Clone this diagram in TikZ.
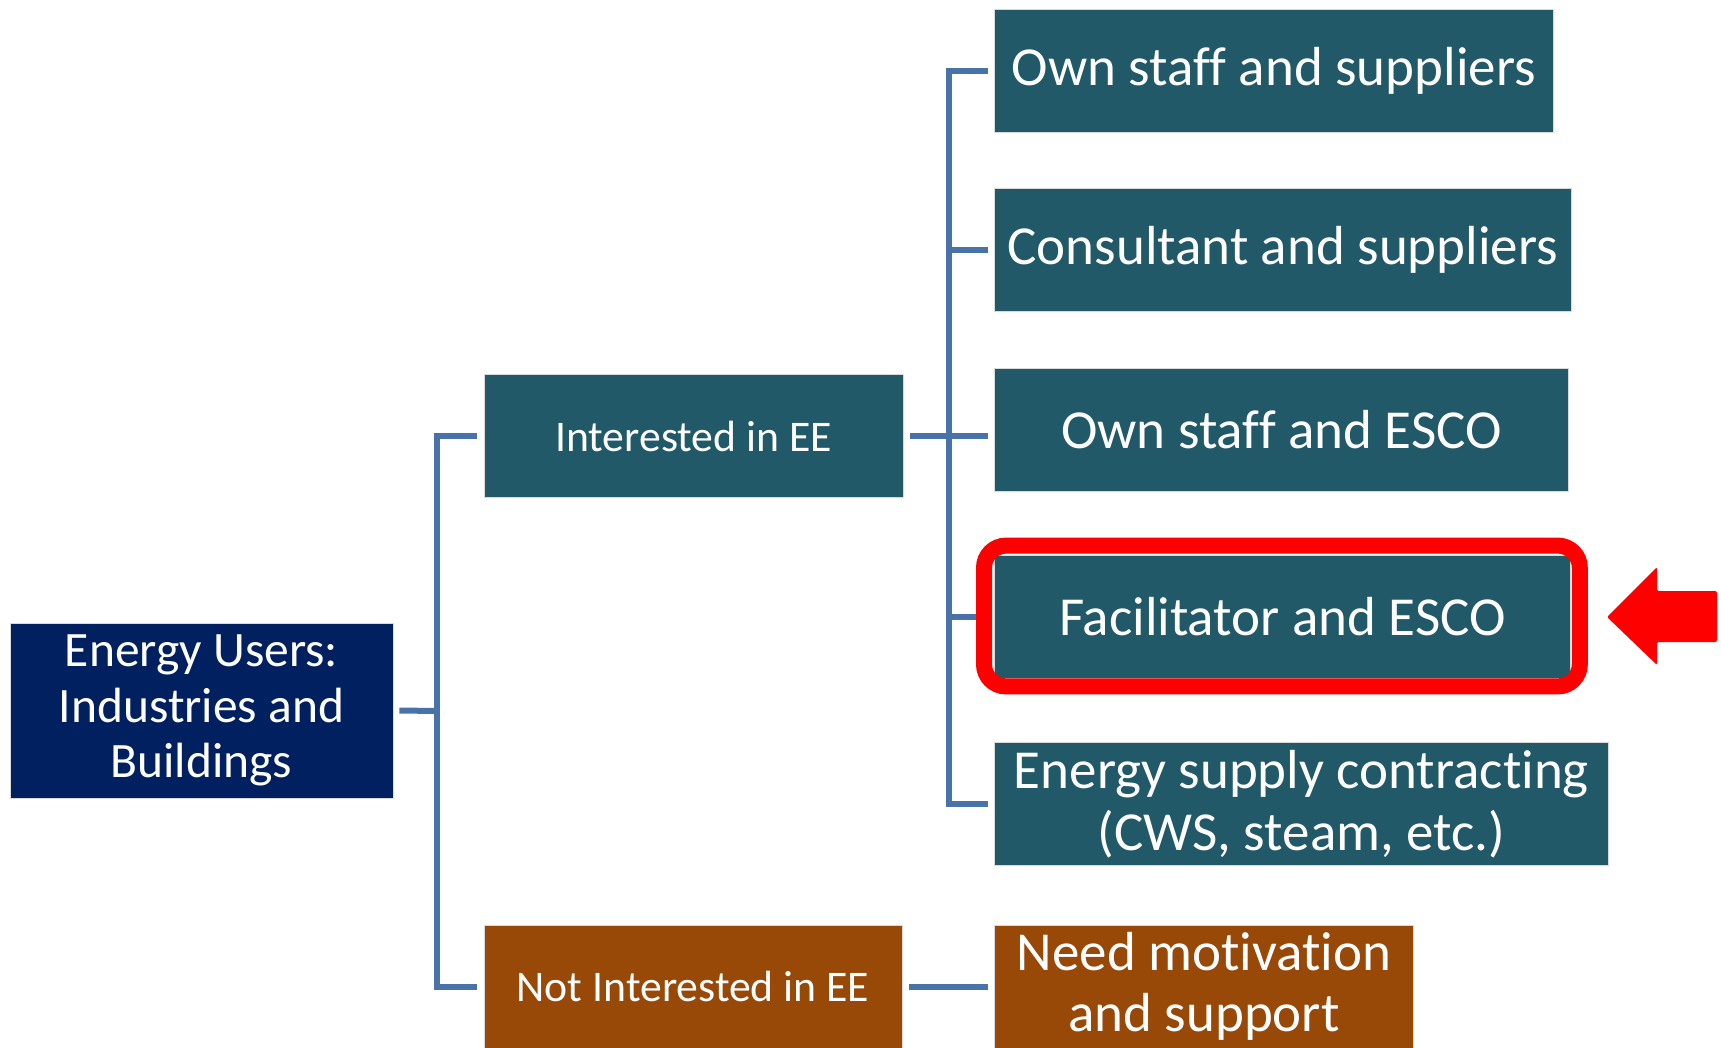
\documentclass[tikz,border=0pt]{standalone}
\usepackage{fontspec}
\setmainfont{Carlito}[Ligatures=NoCommon]
\usetikzlibrary{positioning}

\definecolor{navybox}{RGB}{0,32,96}
\definecolor{tealbox}{RGB}{33,89,104}
\definecolor{brownbox}{RGB}{152,72,7}
\definecolor{linkblue}{RGB}{72,114,168}
\definecolor{hired}{RGB}{255,0,0}

\begin{document}
\begin{tikzpicture}[x=1pt, y=-1pt,
    box/.style={draw=white!85!black, line width=0.8pt, text=white, inner sep=0pt, align=center, minimum height=123pt},
    rootbox/.style={box, fill=navybox, font=\fontsize{49.5}{55.5}\selectfont},
    midbox/.style={box, fill=tealbox, font=\fontsize{43.7}{50}\selectfont},
    leafbox/.style={box, fill=tealbox, anchor=west, font=\fontsize{55}{61.5}\selectfont},
    link/.style={draw=linkblue, line width=6pt}]
    \useasboundingbox (0,0) rectangle (1721,1047);

    % Draw nodes
    \node[rootbox, minimum width=383pt, minimum height=175pt] (root) at (201.5,710.5) {Energy Users:\\Industries and\\Buildings};
    \node[midbox, minimum width=419pt] (interested) at (693.5,436) {Interested in EE};
    \node[midbox, fill=brownbox, minimum width=418pt] (notint) at (693,986.5) {Not Interested in EE};

    \node[leafbox, minimum width=559pt] (own1) at (994,70.5) {Own staff and suppliers};
    \node[leafbox, minimum width=577pt] (consult) at (994,250) {Consultant and suppliers};
    \node[leafbox, minimum width=574pt] (ownesco) at (994,430) {Own staff and ESCO};
    \node[leafbox, minimum width=576pt] (facil) at (994,616.5) {Facilitator and ESCO};
    \node[leafbox, minimum width=614pt] (supply) at (994,804) {Energy supply contracting\\(CWS, steam, etc.)};
    \node[leafbox, fill=brownbox, minimum width=419pt] (need) at (994,986.5) {Need motivation\\and support};

    % Junctions
    \coordinate (jroot) at (437,711);
    \coordinate (jint) at (949,436);

    % Draw connections
    \draw[link] ([xshift=6]root.east) -- (jroot);
    \draw[link] ([xshift=-7]interested.west) -| (jroot) |- ([xshift=-7]notint.west);
    \draw[link] ([xshift=7]interested.east) -- (jint) -- ([xshift=-6]ownesco.west |- jint);
    \draw[link] ([xshift=-6]own1.west) -| (jint) |- ([xshift=-6]supply.west);
    \foreach \n in {consult, facil}
        \draw[link] ([xshift=-6]\n.west) -- (\n.west -| jint);
    \draw[link] ([xshift=7]notint.east) -- ([xshift=-6]need.west);

    % Highlight
    \draw[hired, line width=16pt, rounded corners=22pt]
        ([shift={(-10,-9)}]facil.north west) rectangle ([shift={(9,8)}]facil.south east);
    \fill[hired, rounded corners=2pt] (1607,617) -- (1657,567) -- (1657,591) -- (1717,591)
        -- (1717,642) -- (1657,642) -- (1657,665) -- cycle;
\end{tikzpicture}
\end{document}
